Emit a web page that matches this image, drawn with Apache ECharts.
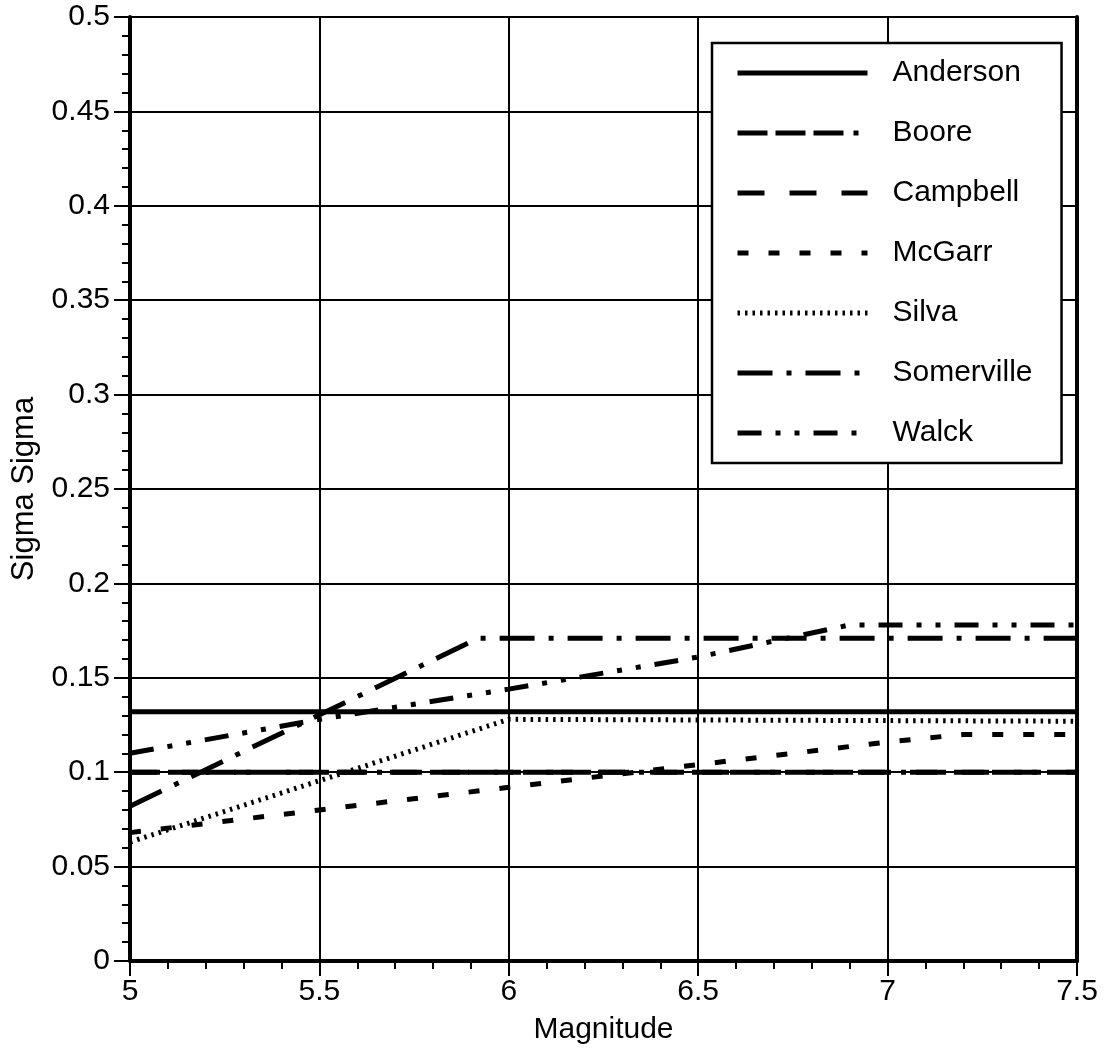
<!DOCTYPE html>
<html>
<head>
<meta charset="utf-8">
<script src="https://cdn.jsdelivr.net/npm/echarts@6/dist/echarts.min.js"></script>
<style>
  html, body { margin: 0; padding: 0; background: #fff; }
  #chart { width: 1107px; height: 1057px; }
</style>
</head>
<body>
<div id="chart"></div>
<script>
// Sigma of sigma versus magnitude for seven ground-motion models
const seriesNames = ['Anderson', 'Boore', 'Campbell', 'McGarr', 'Silva', 'Somerville', 'Walck'];

const andersonMag = [5, 7.5];
const andersonSig = [0.132, 0.132];

const booreMag = [5, 7.5];
const booreSig = [0.1, 0.1];

const campbellMag = [5, 7.5];
const campbellSig = [0.1, 0.1];

const mcgarrMag = [5, 5.5, 6, 6.5, 7, 7.2, 7.5];
const mcgarrSig = [0.068, 0.080, 0.092, 0.104, 0.116, 0.120, 0.120];

const silvaMag = [5, 6, 7.5];
const silvaSig = [0.063, 0.128, 0.127];

const somervilleMag = [5, 5.92, 7.5];
const somervilleSig = [0.082, 0.171, 0.171];

const walckMag = [5, 5.5, 6, 6.5, 6.9, 7.5];
const walckSig = [0.110, 0.128, 0.144, 0.161, 0.178, 0.178];

const magnitudeTicks = [5, 5.5, 6, 6.5, 7, 7.5];

const pairs = (xs, ys) => xs.map((x, i) => [x, ys[i]]);

const FONT = 'Liberation Sans';

function lineSeries(name, data, dash, width) {
  return {
    name: name,
    type: 'line',
    data: data,
    symbol: 'none',
    showSymbol: false,
    animation: false,
    lineStyle: { color: '#000', width: width || 5, type: dash, cap: 'butt' },
    itemStyle: { color: '#000' }
  };
}

const chart = echarts.init(document.getElementById('chart'));
chart.setOption({
  backgroundColor: '#fff',
  animation: false,
  textStyle: { fontFamily: FONT, color: '#000' },
  grid: { left: 130, right: 30, top: 17, bottom: 96, show: false },
  legend: {
    orient: 'vertical',
    left: 712,
    top: 43,
    data: seriesNames,
    backgroundColor: '#fff',
    borderColor: '#000',
    borderWidth: 2.5,
    borderRadius: 0,
    padding: [15, 29, 15, 23],
    itemWidth: 130,
    itemHeight: 14,
    itemGap: 30,
    selectedMode: false,
    itemStyle: { opacity: 0 },
    lineStyle: { width: 5, color: '#000' },
    textStyle: { fontFamily: FONT, fontSize: 30, color: '#000', padding: [0, 0, 0, 20] }
  },
  xAxis: {
    type: 'value',
    min: 5,
    max: 7.5,
    interval: 0.5,
    name: 'Magnitude',
    nameLocation: 'middle',
    nameGap: 54,
    nameTextStyle: { fontFamily: FONT, fontSize: 30, color: '#000' },
    axisLine: { show: true, onZero: false, lineStyle: { color: '#000', width: 4 } },
    axisTick: { show: true, length: 15, lineStyle: { color: '#000', width: 2 } },
    minorTick: { show: true, splitNumber: 5, length: 8, lineStyle: { color: '#000', width: 2 } },
    splitLine: { show: true, lineStyle: { color: '#000', width: 2 } },
    axisLabel: {
      fontFamily: FONT, fontSize: 30, color: '#000', margin: 16,
      formatter: v => String(magnitudeTicks.find(t => Math.abs(t - v) < 1e-9) ?? v)
    }
  },
  yAxis: [{
    type: 'value',
    min: 0,
    max: 0.5,
    interval: 0.05,
    name: 'Sigma Sigma',
    nameLocation: 'middle',
    nameGap: 90,
    nameTextStyle: { fontFamily: FONT, fontSize: 31, color: '#000' },
    axisLine: { show: true, lineStyle: { color: '#000', width: 4 } },
    axisTick: { show: true, length: 16, lineStyle: { color: '#000', width: 2 } },
    minorTick: { show: true, splitNumber: 5, length: 8, lineStyle: { color: '#000', width: 2 } },
    splitLine: { show: true, lineStyle: { color: '#000', width: 2 } },
    axisLabel: {
      fontFamily: FONT, fontSize: 30, color: '#000', margin: 20,
      formatter: v => String(+v.toFixed(2))
    }
  }, {
    type: 'value',
    position: 'right',
    min: 0,
    max: 0.5,
    interval: 0.05,
    axisLine: { show: true, lineStyle: { color: '#000', width: 4 } },
    axisTick: { show: false },
    axisLabel: { show: false },
    splitLine: { show: false }
  }],
  series: [
    lineSeries('Anderson', pairs(andersonMag, andersonSig), 'solid', 5),
    lineSeries('Boore', pairs(booreMag, booreSig), [30, 8, 30, 8, 30, 10, 5, 10], 5),
    lineSeries('Campbell', pairs(campbellMag, campbellSig), [27, 25], 5),
    lineSeries('McGarr', pairs(mcgarrMag, mcgarrSig), [11, 20], 5),
    lineSeries('Silva', pairs(silvaMag, silvaSig), [2.5, 5], 5),
    lineSeries('Somerville', pairs(somervilleMag, somervilleSig), [35, 14, 5, 14], 5),
    lineSeries('Walck', pairs(walckMag, walckSig), [24, 14, 5, 14, 5, 14], 5)
  ]
});
</script>
</body>
</html>
